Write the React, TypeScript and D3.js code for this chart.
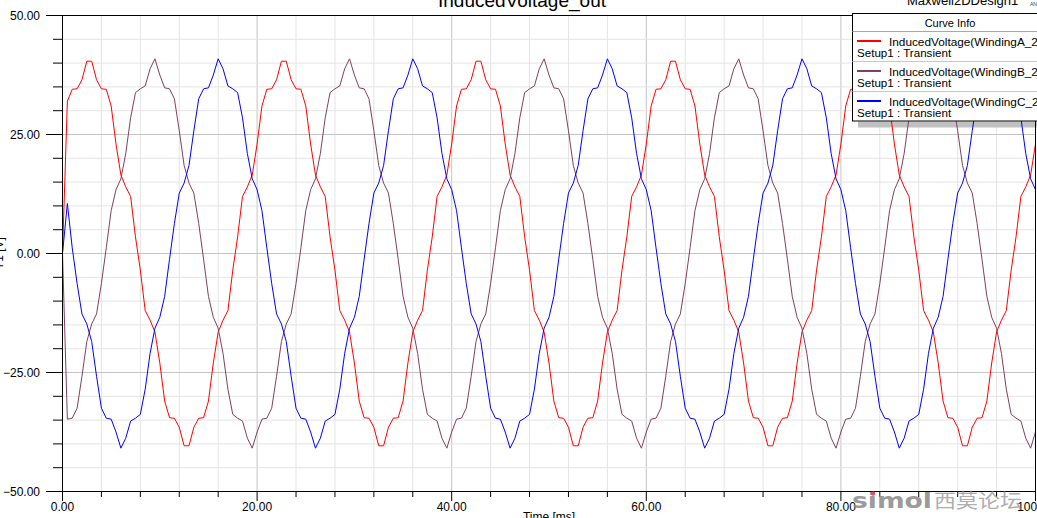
import React from "react";
import * as d3 from "d3";

// ---------------- data ----------------
const TIME_STEP_MS = 0.5;
const timeMs: number[] = d3.range(0, 201).map((i) => i * TIME_STEP_MS);

const windingA: number[] = [
  0, 32, 34.5, 34.6, 36.5, 40.4, 40.4, 36.5, 34.6, 34.5, 31, 23, 16.5, 14, 12, 3.5, -3.5, -12, -14, -16.5, -23, -31, -34.5, -34.6, -36.5, -40.4, -40.4, -36.5, -34.6, -34.5, -31, -23, -16.5, -14, -12, -3.5, 3.5, 12, 14, 16.5,
  23, 31, 34.5, 34.6, 36.5, 40.4, 40.4, 36.5, 34.6, 34.5, 31, 23, 16.5, 14, 12, 3.5, -3.5, -12, -14, -16.5, -23, -31, -34.5, -34.6, -36.5, -40.4, -40.4, -36.5, -34.6, -34.5, -31, -23, -16.5, -14, -12, -3.5, 3.5, 12, 14, 16.5,
  23, 31, 34.5, 34.6, 36.5, 40.4, 40.4, 36.5, 34.6, 34.5, 31, 23, 16.5, 14, 12, 3.5, -3.5, -12, -14, -16.5, -23, -31, -34.5, -34.6, -36.5, -40.4, -40.4, -36.5, -34.6, -34.5, -31, -23, -16.5, -14, -12, -3.5, 3.5, 12, 14, 16.5,
  23, 31, 34.5, 34.6, 36.5, 40.4, 40.4, 36.5, 34.6, 34.5, 31, 23, 16.5, 14, 12, 3.5, -3.5, -12, -14, -16.5, -23, -31, -34.5, -34.6, -36.5, -40.4, -40.4, -36.5, -34.6, -34.5, -31, -23, -16.5, -14, -12, -3.5, 3.5, 12, 14, 16.5,
  23, 31, 34.5, 34.6, 36.5, 40.4, 40.4, 36.5, 34.6, 34.5, 31, 23, 16.5, 14, 12, 3.5, -3.5, -12, -14, -16.5, -23, -31, -34.5, -34.6, -36.5, -40.4, -40.4, -36.5, -34.6, -34.5, -31, -23, -16.5, -14, -12, -3.5, 3.5, 12, 14, 16.5,
  23,
];

const windingB: number[] = [
  0, -34.8, -34.6, -32.5, -25.8, -18.5, -14.8, -12.7, -6.3, 1.2, 9, 13.4, 15.7, 21, 28.5, 33.8, 34.6, 35.2, 38.8, 40.9, 37.5, 34.8, 34.6, 32.5, 25.8, 18.5, 14.8, 12.7, 6.3, -1.2, -9, -13.4, -15.7, -21, -28.5, -33.8, -34.6, -35.2, -38.8, -40.9,
  -37.5, -34.8, -34.6, -32.5, -25.8, -18.5, -14.8, -12.7, -6.3, 1.2, 9, 13.4, 15.7, 21, 28.5, 33.8, 34.6, 35.2, 38.8, 40.9, 37.5, 34.8, 34.6, 32.5, 25.8, 18.5, 14.8, 12.7, 6.3, -1.2, -9, -13.4, -15.7, -21, -28.5, -33.8, -34.6, -35.2, -38.8, -40.9,
  -37.5, -34.8, -34.6, -32.5, -25.8, -18.5, -14.8, -12.7, -6.3, 1.2, 9, 13.4, 15.7, 21, 28.5, 33.8, 34.6, 35.2, 38.8, 40.9, 37.5, 34.8, 34.6, 32.5, 25.8, 18.5, 14.8, 12.7, 6.3, -1.2, -9, -13.4, -15.7, -21, -28.5, -33.8, -34.6, -35.2, -38.8, -40.9,
  -37.5, -34.8, -34.6, -32.5, -25.8, -18.5, -14.8, -12.7, -6.3, 1.2, 9, 13.4, 15.7, 21, 28.5, 33.8, 34.6, 35.2, 38.8, 40.9, 37.5, 34.8, 34.6, 32.5, 25.8, 18.5, 14.8, 12.7, 6.3, -1.2, -9, -13.4, -15.7, -21, -28.5, -33.8, -34.6, -35.2, -38.8, -40.9,
  -37.5, -34.8, -34.6, -32.5, -25.8, -18.5, -14.8, -12.7, -6.3, 1.2, 9, 13.4, 15.7, 21, 28.5, 33.8, 34.6, 35.2, 38.8, 40.9, 37.5, 34.8, 34.6, 32.5, 25.8, 18.5, 14.8, 12.7, 6.3, -1.2, -9, -13.4, -15.7, -21, -28.5, -33.8, -34.6, -35.2, -38.8, -40.9,
  -37.5,
];

const windingC: number[] = [
  0, 10.5, 1.2, -6.3, -12.7, -14.8, -18.5, -25.8, -32.5, -34.6, -34.8, -37.5, -40.9, -38.8, -35.2, -34.6, -33.8, -28.5, -21, -15.7, -13.4, -9, -1.2, 6.3, 12.7, 14.8, 18.5, 25.8, 32.5, 34.6, 34.8, 37.5, 40.9, 38.8, 35.2, 34.6, 33.8, 28.5, 21, 15.7,
  13.4, 9, 1.2, -6.3, -12.7, -14.8, -18.5, -25.8, -32.5, -34.6, -34.8, -37.5, -40.9, -38.8, -35.2, -34.6, -33.8, -28.5, -21, -15.7, -13.4, -9, -1.2, 6.3, 12.7, 14.8, 18.5, 25.8, 32.5, 34.6, 34.8, 37.5, 40.9, 38.8, 35.2, 34.6, 33.8, 28.5, 21, 15.7,
  13.4, 9, 1.2, -6.3, -12.7, -14.8, -18.5, -25.8, -32.5, -34.6, -34.8, -37.5, -40.9, -38.8, -35.2, -34.6, -33.8, -28.5, -21, -15.7, -13.4, -9, -1.2, 6.3, 12.7, 14.8, 18.5, 25.8, 32.5, 34.6, 34.8, 37.5, 40.9, 38.8, 35.2, 34.6, 33.8, 28.5, 21, 15.7,
  13.4, 9, 1.2, -6.3, -12.7, -14.8, -18.5, -25.8, -32.5, -34.6, -34.8, -37.5, -40.9, -38.8, -35.2, -34.6, -33.8, -28.5, -21, -15.7, -13.4, -9, -1.2, 6.3, 12.7, 14.8, 18.5, 25.8, 32.5, 34.6, 34.8, 37.5, 40.9, 38.8, 35.2, 34.6, 33.8, 28.5, 21, 15.7,
  13.4, 9, 1.2, -6.3, -12.7, -14.8, -18.5, -25.8, -32.5, -34.6, -34.8, -37.5, -40.9, -38.8, -35.2, -34.6, -33.8, -28.5, -21, -15.7, -13.4, -9, -1.2, 6.3, 12.7, 14.8, 18.5, 25.8, 32.5, 34.6, 34.8, 37.5, 40.9, 38.8, 35.2, 34.6, 33.8, 28.5, 21, 15.7,
  13.4,
];

const seriesNames = ["InducedVoltage(WindingA_2)", "InducedVoltage(WindingB_2)", "InducedVoltage(WindingC_2)"];
const seriesSubtitle = "Setup1 : Transient";
const seriesColors = ["#ff0000", "#804060", "#0000ff"];

const xMajorTicks = [0, 20, 40, 60, 80, 100];
const xMinorTicks = d3.range(0, 101, 4);
const yMajorTicks = [50, 25, 0, -25, -50];
const yMinorTicks = d3.range(-50, 51, 5);

const titleText = "InducedVoltage_out";
const designText = "Maxwell2DDesign1";
const xAxisLabel = "Time [ms]";
const yAxisLabel = "Y1 [V]";

// ---------------- component ----------------
const W = 1037;
const H = 518;
const FONT = "'Liberation Sans', Arial, Helvetica, sans-serif";

export default function App() {
  const x = d3.scaleLinear().domain([0, 100]).range([62.5, 1035.5]);
  const y = d3.scaleLinear().domain([-50, 50]).range([491.5, 15.5]);
  const [x0, x1] = x.range();
  const [yb, yt] = y.range();
  const fmt = d3.format(".2f");

  const allSeries = [windingA, windingB, windingC];
  const line = d3
    .line<number>()
    .x((_, i) => x(timeMs[i]))
    .y((v) => y(v));

  const legendX = 852.5;
  const legendTop = 13.5;
  const rowH = 30;

  return (
    <svg
      width={W}
      height={H}
      viewBox={`0 0 ${W} ${H}`}
      style={{ position: "absolute", left: 0, top: 0, background: "#fff", fontFamily: FONT }}
    >
      <rect x={0} y={0} width={W} height={H} fill="#fff" />

      {/* grid */}
      {xMinorTicks
        .filter((t) => t > 0 && t < 100)
        .map((t) => (
          <line
            key={"gx" + t}
            x1={x(t)}
            x2={x(t)}
            y1={yt}
            y2={yb}
            stroke={t % 20 === 0 ? "#c4c4c4" : "#e4e4e4"}
            strokeWidth={1}
          />
        ))}
      {yMinorTicks
        .filter((v) => v > -50 && v < 50)
        .map((v) => (
          <line
            key={"gy" + v}
            x1={x0}
            x2={x1}
            y1={y(v)}
            y2={y(v)}
            stroke={v % 25 === 0 ? "#c4c4c4" : "#e4e4e4"}
            strokeWidth={1}
          />
        ))}

      {/* legend shadow (under curves) */}
      <rect x={858} y={121.5} width={200} height={6} fill="#c0c0c0" />

      {/* curves */}
      {allSeries.map((s, i) => (
        <path key={"s" + i} d={line(s) || ""} fill="none" stroke={seriesColors[i]} strokeWidth={1} />
      ))}

      {/* frame & axes */}
      <line x1={46} x2={x1} y1={yt} y2={yt} stroke="#000" />
      <line x1={46} x2={x1} y1={yb} y2={yb} stroke="#000" />
      <line x1={x0} x2={x0} y1={yt} y2={501} stroke="#000" />
      <line x1={x1} x2={x1} y1={yt} y2={501} stroke="#000" />

      {/* x ticks */}
      {xMinorTicks.map((t) => (
        <line
          key={"tx" + t}
          x1={x(t)}
          x2={x(t)}
          y1={yb}
          y2={t % 20 === 0 ? 501 : 497}
          stroke="#000"
        />
      ))}
      {xMajorTicks.map((t) => (
        <text key={"lx" + t} x={x(t)} y={510.5} fontSize={12} textAnchor="middle" fill="#000">
          {fmt(t)}
        </text>
      ))}

      {/* y ticks */}
      {yMinorTicks.map((v) => (
        <line
          key={"ty" + v}
          x1={v % 25 === 0 ? 46 : 53}
          x2={x0}
          y1={y(v)}
          y2={y(v)}
          stroke="#000"
        />
      ))}
      {yMajorTicks.map((v) => (
        <text key={"ly" + v} x={40} y={y(v) + 4} fontSize={12} textAnchor="end" fill="#000">
          {fmt(v)}
        </text>
      ))}

      {/* axis labels */}
      <text x={(x0 + x1) / 2} y={521} fontSize={12} textAnchor="middle" fill="#000">
        {xAxisLabel}
      </text>
      <text
        transform={`translate(3, ${(yt + yb) / 2}) rotate(-90)`}
        fontSize={12}
        textAnchor="middle"
        fill="#000"
      >
        {yAxisLabel}
      </text>

      {/* title */}
      <text x={522} y={7} fontSize={19} textAnchor="middle" fill="#000">
        {titleText}
      </text>
      <text x={907} y={5} fontSize={13} fill="#000">
        {designText}
      </text>
      <text x={1030} y={6} fontSize={5} fill="#444">
        ANSYS
      </text>

      {/* legend */}
      <rect x={legendX} y={legendTop} width={220} height={107.5} fill="#fff" stroke="#000" />
      <text x={950} y={27.3} fontSize={11} textAnchor="middle" fill="#000">
        Curve Info
      </text>
      <line x1={legendX} x2={W} y1={31.5} y2={31.5} stroke="#a8a8a8" />
      {seriesNames.map((name, i) => {
        const top = 31.5 + i * rowH;
        return (
          <g key={"leg" + i}>
            {i > 0 && <line x1={legendX} x2={W} y1={top} y2={top} stroke="#c8c8c8" />}
            <line x1={857} x2={881} y1={top + 9.5} y2={top + 9.5} stroke={seriesColors[i]} strokeWidth={2} />
            <text x={889} y={top + 14} fontSize={11.8} fill="#000">
              {name}
            </text>
            <text x={857} y={top + 25.3} fontSize={11.6} fill="#000">
              {seriesSubtitle}
            </text>
          </g>
        );
      })}

      {/* watermark */}
      <g opacity={0.85}>
        <text
          x={852}
          y={508}
          fontSize={21}
          fontWeight="bold"
          fill="#8a8a8a"
          textLength={80}
          lengthAdjust="spacingAndGlyphs"
          fontFamily="'DejaVu Sans', sans-serif"
        >
          simol
        </text>
        <circle cx={873} cy={493.5} r={2.2} fill="#e03040" />
        <text
          x={934}
          y={508}
          fontSize={19}
          fill="#a0a0a0"
          textLength={88}
          lengthAdjust="spacingAndGlyphs"
          fontFamily="'Noto Sans CJK SC', sans-serif"
        >
          西莫论坛
        </text>
      </g>
    </svg>
  );
}
